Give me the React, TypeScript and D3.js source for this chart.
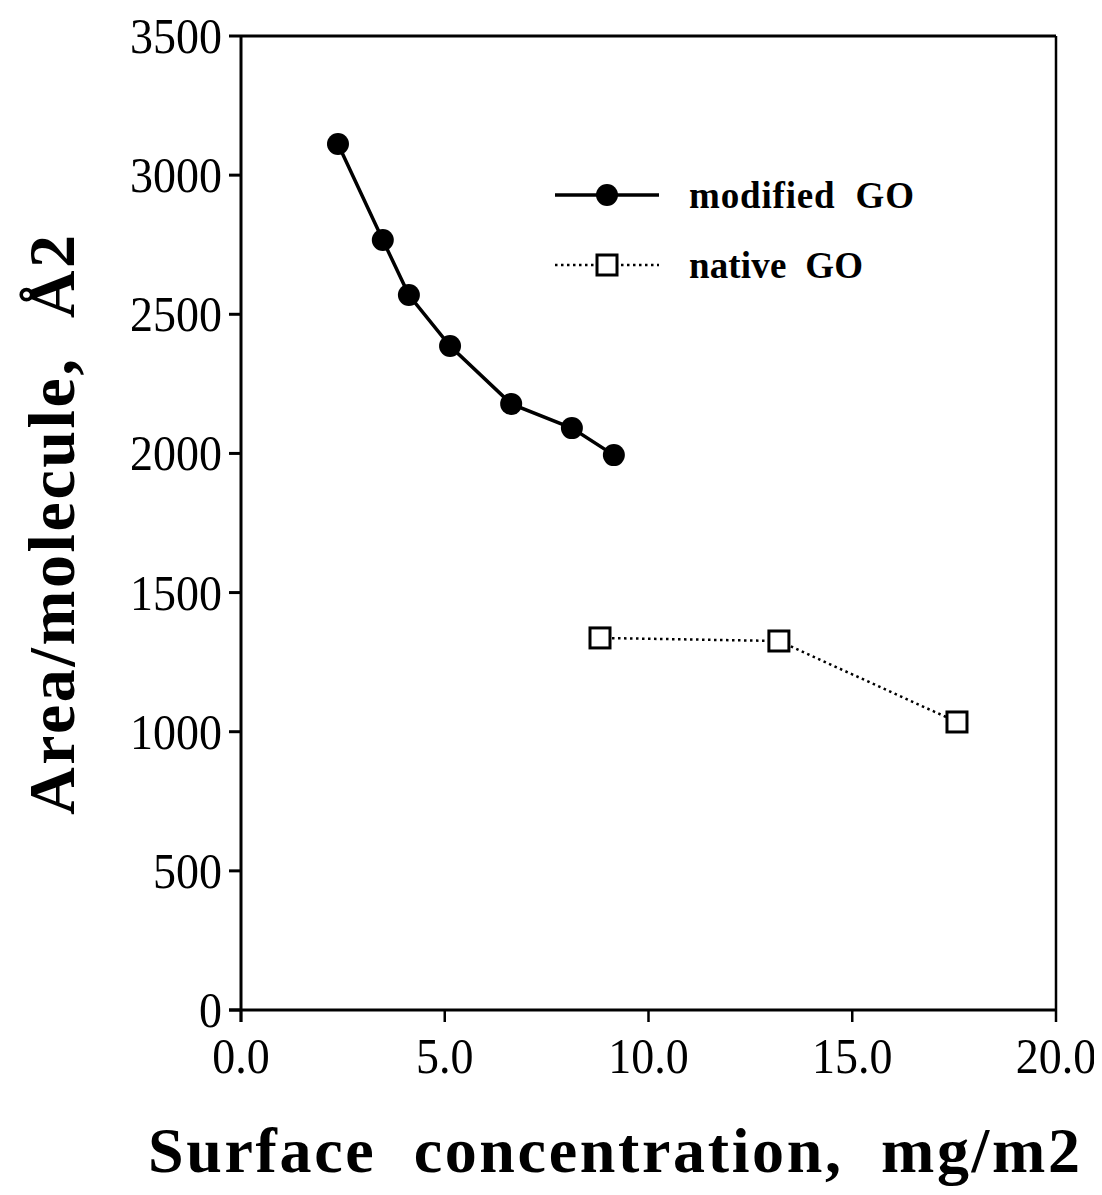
import React from 'react';
import * as d3 from 'd3';

// surface concentration (mg/m2) vs area per molecule (Å2)
const modifiedX = [2.38, 3.48, 4.12, 5.13, 6.63, 8.12, 9.15];
const modifiedY = [3112, 2767, 2569, 2386, 2178, 2091, 1994];
const nativeX = [8.81, 13.2, 17.57];
const nativeY = [1337, 1326, 1035];

const xTicks = [0, 5, 10, 15, 20];
const yTicks = [0, 500, 1000, 1500, 2000, 2500, 3000, 3500];

const W = 1094;
const H = 1178;
const left = 233;
const right = 1048;
const top = 28;
const bottom = 1002;

const font = '"Liberation Serif", "Times New Roman", serif';

export default function App() {
  const x = d3.scaleLinear().domain([0, 20]).range([left, right]);
  const y = d3.scaleLinear().domain([0, 3500]).range([bottom, top]);

  const line = d3.line<[number, number]>().x(d => x(d[0])).y(d => y(d[1]));
  const mod: [number, number][] = modifiedX.map((v, i) => [v, modifiedY[i]]);
  const nat: [number, number][] = nativeX.map((v, i) => [v, nativeY[i]]);

  const lgX = 547;
  const lgY1 = 187;
  const lgY2 = 257;

  return (
    <svg width={W} height={H} style={{ display: 'block', background: '#fff', overflow: 'visible' }}>
      {/* frame */}
      <line x1={left} x2={right} y1={top} y2={top} stroke="#000" strokeWidth={3} />
      <line x1={right} x2={right} y1={top} y2={bottom} stroke="#000" strokeWidth={2.5} />
      <line x1={left} x2={left} y1={top} y2={bottom + 12} stroke="#000" strokeWidth={3} />
      <line x1={left - 12} x2={right} y1={bottom} y2={bottom} stroke="#000" strokeWidth={3} />

      {yTicks.map(t => (
        <g key={'y' + t}>
          <line x1={left - 12} x2={left} y1={y(t)} y2={y(t)} stroke="#000" strokeWidth={3} />
          <g transform={`translate(${left - 19},${y(t)}) scale(1,1.12)`}>
            <text dy="0.33em" textAnchor="end" fontFamily={font} fontSize={46}>
              {t}
            </text>
          </g>
        </g>
      ))}
      {xTicks.map(t => (
        <g key={'x' + t}>
          <line x1={x(t)} x2={x(t)} y1={bottom} y2={bottom + 12} stroke="#000" strokeWidth={2.5} />
          <g transform={`translate(${x(t)},${bottom + 63}) scale(1,1.12)`}>
            <text textAnchor="middle" fontFamily={font} fontSize={46}>
              {d3.format('.1f')(t)}
            </text>
          </g>
        </g>
      ))}

      {/* series */}
      <path d={line(mod) || ''} fill="none" stroke="#000" strokeWidth={3.5} />
      {mod.map((d, i) => (
        <circle key={'m' + i} cx={x(d[0])} cy={y(d[1])} r={11} fill="#000" />
      ))}
      <path d={line(nat) || ''} fill="none" stroke="#000" strokeWidth={2.5} strokeDasharray="2.5 3.5" />
      {nat.map((d, i) => (
        <rect key={'n' + i} x={x(d[0]) - 10} y={y(d[1]) - 10} width={20} height={20} fill="#fff" stroke="#000" strokeWidth={3} />
      ))}

      {/* legend */}
      <line x1={lgX} x2={lgX + 104} y1={lgY1} y2={lgY1} stroke="#000" strokeWidth={3.5} />
      <circle cx={lgX + 52} cy={lgY1} r={11} fill="#000" />
      <text x={lgX + 134} y={lgY1} dy="0.35em" fontFamily={font} fontWeight="bold" fontSize={37} textLength={225}>
        modified{'\u00a0\u00a0'}GO
      </text>
      <line x1={lgX} x2={lgX + 104} y1={lgY2} y2={lgY2} stroke="#000" strokeWidth={2.5} strokeDasharray="2.5 3.5" />
      <rect x={lgX + 42} y={lgY2 - 10} width={20} height={20} fill="#fff" stroke="#000" strokeWidth={3} />
      <text x={lgX + 134} y={lgY2} dy="0.35em" fontFamily={font} fontWeight="bold" fontSize={37} textLength={174}>
        native{'\u00a0\u00a0'}GO
      </text>

      {/* axis titles */}
      <text
        transform={`translate(66, 517) rotate(-90)`}
        textAnchor="middle"
        fontFamily={font}
        fontWeight="bold"
        fontSize={66}
        textLength={580}
      >
        Area/molecule,{'\u00a0\u00a0'}Å2
      </text>
      <text x={606} y={1164} textAnchor="middle" fontFamily={font} fontWeight="bold" fontSize={64} textLength={932}>
        Surface{'\u00a0\u00a0'}concentration,{'\u00a0\u00a0'}mg/m2
      </text>
    </svg>
  );
}
